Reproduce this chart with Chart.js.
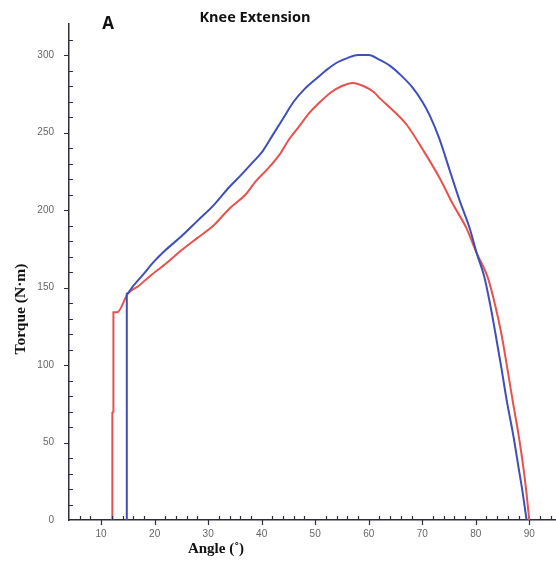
<!DOCTYPE html>
<html>
<head>
<meta charset="utf-8">
<script src="https://cdn.jsdelivr.net/npm/chart.js@4"></script>
<style>
  html, body { margin: 0; padding: 0; background: #fff; }
  #wrap { width: 556px; height: 562px; position: relative; }
</style>
</head>
<body>
<div id="wrap"><canvas id="grafico"></canvas></div>
<script>
// valores (ângulo em graus, torque em N·m)
const anguloAzul = [14.8, 14.8, 16, 18, 19.7, 22, 25, 28, 31, 34, 36, 38.4, 40.2, 42, 44, 46, 48, 50.3, 52, 54, 56, 58, 60, 62, 64, 66, 68.2, 70, 71.4, 73.2, 75.1, 77, 78.8, 80.2, 81.6, 82.7, 83.7, 84.8, 85.8, 87, 88, 88.8, 89.5];
const torqueAzul = [0, 146, 151, 159, 166, 174, 183, 193, 203, 215, 222, 231, 238, 248, 259, 270, 278, 285, 290, 295, 298, 300, 300, 297, 293, 287, 279, 270, 261, 246, 226, 206, 189, 172, 157, 139, 120, 98, 77, 55, 34, 17, 0];

const anguloVermelho = [12.1, 12.1, 12.3, 12.3, 13, 15, 17, 19, 22.3, 25, 28, 31, 34, 37, 39, 41, 43.4, 45, 47, 49, 51, 53, 55, 57, 59, 61, 62.1, 64, 67.1, 70.1, 73.2, 75.7, 78.3, 80.2, 82.2, 83.6, 84.8, 85.9, 86.9, 88, 88.9, 89.5, 90];
const torqueVermelho = [0, 69, 70, 134, 134, 146, 151, 157, 166, 174, 182, 190, 201, 210, 219, 226, 236, 245, 254, 263, 270, 276, 280, 282, 280, 276, 272, 266, 255, 239, 221, 204, 188, 172, 157, 139, 120, 98, 77, 55, 34, 17, 0];

const ticksX = [10, 20, 30, 40, 50, 60, 70, 80, 90];
const ticksY = [0, 50, 100, 150, 200, 250, 300];

const corAzul = '#3f4fb8';
const corVermelho = '#e8524c';
const corEixo = '#2e2e3a';

function pontos(xs, ys) {
  return xs.map((x, i) => ({ x: x, y: ys[i] }));
}

// marcas menores e maiores dos eixos, títulos e letra "A"
const extras = {
  id: 'extras',
  afterDraw(chart) {
    const ctx = chart.ctx;
    const sx = chart.scales.x;
    const sy = chart.scales.y;
    const area = chart.chartArea;
    ctx.save();
    ctx.strokeStyle = corEixo;
    ctx.lineWidth = 1.2;
    ctx.beginPath();
    for (let v = 6; v <= 94; v += 2) {
      const px = Math.round(sx.getPixelForValue(v)) + 0.5;
      if (v % 10 === 0) {
        ctx.moveTo(px, area.bottom);
        ctx.lineTo(px, area.bottom + 5);
      } else {
        ctx.moveTo(px, area.bottom);
        ctx.lineTo(px, area.bottom - 4);
      }
    }
    for (let v = 10; v <= 310; v += 10) {
      const py = Math.round(sy.getPixelForValue(v)) + 0.5;
      if (v % 50 === 0) {
        ctx.moveTo(area.left - 5, py);
        ctx.lineTo(area.left, py);
      } else {
        ctx.moveTo(area.left, py);
        ctx.lineTo(area.left + 4, py);
      }
    }
    ctx.stroke();

    ctx.fillStyle = '#111';
    ctx.font = 'bold 14.5px "Open Sans", "Liberation Sans", sans-serif';
    ctx.textAlign = 'center';
    ctx.textBaseline = 'middle';
    ctx.fillText('Knee Extension', 255, 18);
    ctx.font = 'bold 17px "Open Sans", "Liberation Sans", sans-serif';
    ctx.fillText('A', 108, 24);

    ctx.font = 'bold 15px "Liberation Serif", "DejaVu Serif", serif';
    ctx.fillText('Angle (˚)', 216, 549);

    ctx.translate(21, 309);
    ctx.rotate(-Math.PI / 2);
    ctx.font = 'bold 15.5px "Liberation Serif", "DejaVu Serif", serif';
    ctx.fillText('Torque (N·m)', 0, 0);
    ctx.restore();
  }
};

const fonteTicks = { family: 'Liberation Sans', size: 10 };

const grafico = new Chart(document.getElementById('grafico'), {
  type: 'scatter',
  data: {
    datasets: [
      {
        label: 'azul',
        data: pontos(anguloAzul, torqueAzul),
        showLine: true,
        borderColor: corAzul,
        borderWidth: 2,
        pointRadius: 0,
        cubicInterpolationMode: 'monotone'
      },
      {
        label: 'vermelho',
        data: pontos(anguloVermelho, torqueVermelho),
        showLine: true,
        borderColor: corVermelho,
        borderWidth: 2,
        pointRadius: 0,
        cubicInterpolationMode: 'monotone'
      }
    ]
  },
  options: {
    responsive: true,
    maintainAspectRatio: false,
    animation: false,
    layout: { padding: { left: 0, right: 0, top: 24, bottom: 0 } },
    scales: {
      x: {
        type: 'linear',
        min: 4,
        max: 95,
        afterBuildTicks: s => { s.ticks = ticksX.map(v => ({ value: v })); },
        afterFit: s => { s.height = 42; },
        grid: { display: false },
        border: { display: true, color: corEixo, width: 1.5 },
        ticks: { color: '#666', font: fonteTicks, padding: 0, maxRotation: 0 }
      },
      y: {
        type: 'linear',
        min: 0,
        max: 320,
        afterBuildTicks: s => { s.ticks = ticksY.map(v => ({ value: v })); },
        afterFit: s => { s.width = 69; },
        grid: { display: false },
        border: { display: true, color: corEixo, width: 1.5 },
        ticks: { color: '#666', font: fonteTicks, padding: 7 }
      }
    },
    plugins: {
      legend: { display: false },
      tooltip: { enabled: false }
    }
  },
  plugins: [extras]
});
</script>
</body>
</html>
